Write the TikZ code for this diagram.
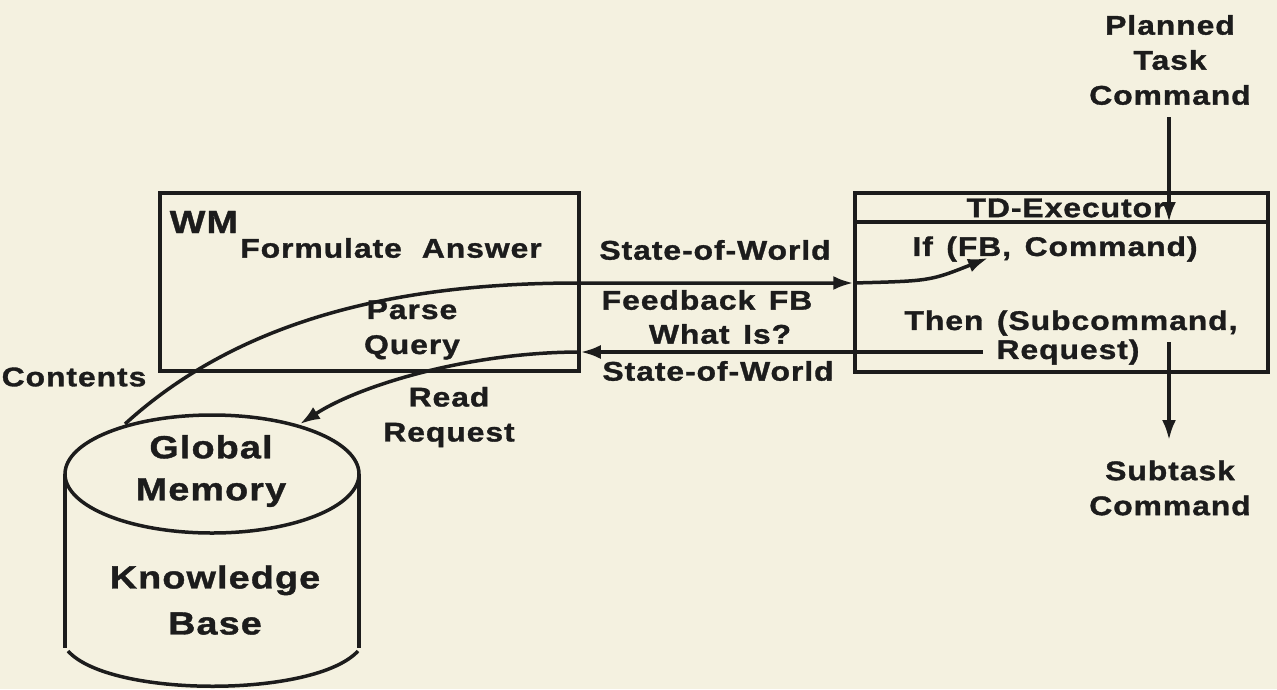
\documentclass[tikz,border=0pt]{standalone}
\usepackage{fontspec}
\setmainfont{Liberation Sans}[FakeStretch=1.18,LetterSpace=3.5,FakeBold=1.2]
\usetikzlibrary{arrows.meta}
\definecolor{bg}{HTML}{F4F1E0}
\definecolor{ink}{HTML}{1C1C1C}
\begin{document}
\begin{tikzpicture}[x=1pt,y=-1pt, line width=3.5pt, color=ink,
  lbl/.style={font=\bfseries\fontsize{27}{35}\selectfont, align=center, inner sep=0pt},
  big/.style={font=\bfseries\fontsize{32}{42}\selectfont, align=center, inner sep=0pt},
  box/.style={draw, rectangle, inner sep=0pt},
  arr/.style={-{Latex[length=20pt,width=14pt]}}]
\fill[bg] (0,0) rectangle (1277,689);
\useasboundingbox (0,0) rectangle (1277,689);

% boxes
\node[box, minimum width=419pt, minimum height=178pt] (wm) at (369.5,282) {};
\node[box, minimum width=413pt, minimum height=179pt] (td) at (1061.5,282.5) {};
\coordinate (hd) at (0,222);
\draw (td.west |- hd) -- (td.east |- hd);

% texts in WM
\node[big, anchor=west] (wmt) at (168,222) {WM};
\node[lbl] (fa) at (391,248) {Formulate\hspace{20pt}Answer};
\node[lbl] (pq) at (412,330) {Parse\\Query};

% texts in TD
\node[lbl] (tdt) at (1066,208) {TD-Executor};
\node[lbl] (ifc) at (1055,249) {If\enspace (FB,\enspace Command)};
\node[lbl] (thn) at (1071,323) {Then\enspace (Subcommand,};
\node[lbl] (req) at (1068,352) {Request)};

% middle labels
\node[lbl] (sw1) at (715,250) {State-of-World};
\node[lbl] (ffb) at (707,300) {Feedback\enspace FB};
\node[lbl] (wis) at (720,334) {What\enspace Is?};
\node[lbl] (sw2) at (718,371) {State-of-World};

% outside labels
\node[lbl] (ptc) at (1170,60) {Planned\\Task\\Command};
\node[lbl] (stc) at (1170,488) {Subtask\\Command};
\node[lbl] (cnt) at (74,377) {Contents};
\node[lbl] (rr) at (449,417) {Read\\Request};

% cylinder
\draw (212,474) ellipse [x radius=147pt, y radius=59pt];
\draw (65,474) -- (65,648);
\draw (359,474) -- (359,648);
\draw (68,651) .. controls (110,698) and (315,698) .. (358,651);
\node[big] (gm) at (211,471) {Global\\Memory};
\node[font=\bfseries\fontsize{32}{46}\selectfont, align=center, inner sep=0pt] (kb) at (215,600) {Knowledge\\Base};

% connectors
\coordinate (c0) at (125,424);
\coordinate (cw) at (579,283);
\coordinate (fb) at (988,258);
\draw[arr] (c0) .. controls (250,310) and (420,283) .. (cw) -- (td.west |- cw);
\draw[arr] (td.west |- cw) .. controls (930,281) .. (fb);

\coordinate (wi) at (983,352);
\coordinate (rq) at (300,424);
\draw[arr] (wi) -- (wm.east |- wi);
\draw[arr] (wm.east |- wi) .. controls (470,352) and (360,385) .. (rq);

\coordinate (p0) at (1169,117);
\coordinate (p1) at (1169,222);
\draw[arr] (p0) -- (p1);
\coordinate (s0) at (1169,342);
\coordinate (s1) at (1169,440);
\draw[arr] (s0) -- (s1);
\end{tikzpicture}
\end{document}
